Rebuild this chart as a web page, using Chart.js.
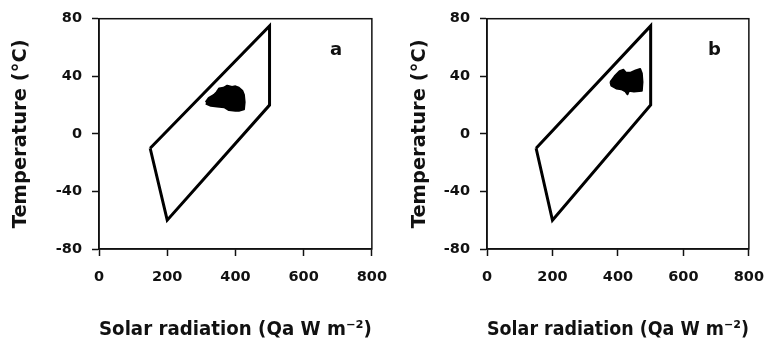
<!DOCTYPE html>
<html>
<head>
<meta charset="utf-8">
<script src="https://cdn.jsdelivr.net/npm/chart.js@4/dist/chart.umd.min.js"></script>
<style>
  html, body { margin: 0; padding: 0; background: #fff; }
  #wrap { position: relative; width: 777px; height: 346px; overflow: hidden; }
  canvas { position: absolute; top: 0; }
  #ca { left: 0; }
  #cb { left: 388px; }
</style>
</head>
<body>
<div id="wrap">
  <canvas id="ca" width="400" height="346"></canvas>
  <canvas id="cb" width="389" height="346"></canvas>
</div>
<script>
// ---- data ----
const xTicks = [0, 200, 400, 600, 800];
const yTicks = [-80, -40, 0, 40, 80];
const envelopeX = [150, 500, 500, 200, 150];
const envelopeY = [-10, 75, 20, -60, -10];
// observed cluster outline, panel a
const blobAX = [313, 322, 337, 345, 352, 365, 376, 390, 400, 410, 420, 425, 427, 425, 410, 400, 381, 367, 346, 328, 313];
const blobAY = [22, 25, 27, 29, 31.5, 32, 33.5, 32.5, 33, 32, 30, 27, 22, 17, 16, 16, 16.5, 18.5, 19, 19.5, 21];
// observed cluster outline, panel b
const blobBX = [377, 390, 405, 417, 424, 439, 454, 468, 473, 475, 473, 449, 434, 429, 423, 410, 395, 380, 377];
const blobBY = [36, 40, 43.5, 44.5, 42.5, 42.5, 44, 45, 42, 36, 30, 29.5, 30, 27.5, 29.5, 31, 31.5, 33.5, 36];
const panelLabels = ['a', 'b'];
const xTitle = 'Solar radiation (Qa W m\u207B\u00B2)';
const yTitle = 'Temperature (\u00B0C)';

function pts(xs, ys) { return xs.map((x, i) => ({x: x, y: ys[i]})); }

const FONT = "'DejaVu Sans', 'Liberation Sans', Arial, sans-serif";

const framePlugin = {
  id: 'frame',
  afterDraw(chart, args, opts) {
    const {ctx, chartArea: a, scales} = chart;
    ctx.save();
    ctx.strokeStyle = '#111';
    ctx.lineWidth = 1.5;
    ctx.strokeRect(a.left, a.top, a.right - a.left, a.bottom - a.top);
    ctx.fillStyle = '#111';
    ctx.font = "bold 18px " + FONT;
    ctx.textAlign = 'center';
    ctx.textBaseline = 'middle';
    ctx.fillText(opts.label, scales.x.getPixelForValue(695), scales.y.getPixelForValue(58));
    ctx.restore();
  }
};

function makeChart(id, blobX, blobY, label, padRight, yTitlePad) {
  return new Chart(document.getElementById(id), {
    type: 'scatter',
    data: {
      datasets: [
        {
          data: pts(blobX, blobY),
          showLine: true,
          fill: 'shape',
          backgroundColor: '#000',
          borderColor: '#000',
          borderWidth: 2,
          borderJoinStyle: 'round',
          pointRadius: 0,
          tension: 0
        },
        {
          data: pts(envelopeX, envelopeY),
          showLine: true,
          fill: false,
          borderColor: '#000',
          borderWidth: 3,
          borderJoinStyle: 'miter',
          pointRadius: 0,
          tension: 0
        }
      ]
    },
    options: {
      responsive: false,
      devicePixelRatio: 1,
      animation: false,
      layout: { padding: { top: 15, right: padRight, left: 0, bottom: 0 } },
      plugins: { legend: { display: false }, tooltip: { enabled: false }, frame: { label: label } },
      scales: {
        x: {
          type: 'linear', min: 0, max: 800,
          afterBuildTicks: s => { s.ticks = xTicks.map(v => ({value: v})); },
          afterFit: s => { s.height = 97; },
          grid: { drawOnChartArea: false, drawTicks: true, tickLength: 7, tickWidth: 1.5, tickColor: '#111' },
          border: { display: true, color: '#111', width: 1.5 },
          ticks: { color: '#111', padding: 13, maxRotation: 0, font: { family: FONT, weight: 'bold', size: 14.5 } },
          title: { display: true, text: xTitle, color: '#111', padding: { top: 0, bottom: 4 }, font: { family: FONT, weight: 'bold', size: 19.5 } }
        },
        y: {
          type: 'linear', min: -80, max: 80,
          afterBuildTicks: s => { s.ticks = yTicks.map(v => ({value: v})); },
          afterFit: s => { s.width = 99; },
          grid: { drawOnChartArea: false, drawTicks: true, tickLength: 7, tickWidth: 1.5, tickColor: '#111' },
          border: { display: true, color: '#111', width: 1.5 },
          ticks: { color: '#111', padding: 10, font: { family: FONT, weight: 'bold', size: 14.5 } },
          title: { display: true, text: yTitle, color: '#111', padding: { top: yTitlePad, bottom: 0 }, font: { family: FONT, weight: 'bold', size: 19.5 } }
        }
      }
    },
    plugins: [framePlugin]
  });
}

makeChart('ca', blobAX, blobAY, panelLabels[0], 26, 9);
makeChart('cb', blobBX, blobBY, panelLabels[1], 18, 20);
</script>
</body>
</html>
